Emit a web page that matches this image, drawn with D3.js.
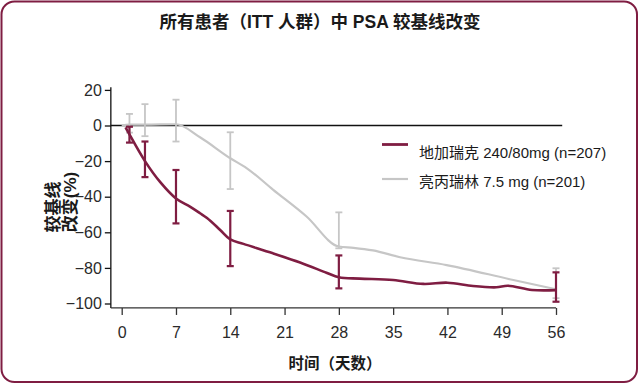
<!DOCTYPE html>
<html lang="zh">
<head>
<meta charset="utf-8">
<script src="https://d3js.org/d3.v7.min.js"></script>
<style>
  body { margin: 0; background: #fff; }
  svg text { font-family: "Liberation Sans", Arial, "Noto Sans CJK SC", sans-serif; }
</style>
</head>
<body>
<div id="chart"></div>
<script>
  // values
  const xTicks = [0, 7, 14, 21, 28, 35, 42, 49, 56];
  const yTicks = [20, 0, -20, -40, -60, -80, -100];

  // degarelix curve (day, % change)
  const degaDays = [0.5, 1, 3, 5, 7, 8.8, 10.1, 11, 12.7, 14, 15.7, 19.5, 23, 26.4, 28, 30.7, 35, 38.9, 42, 45.3, 48.3, 49.8, 52.9, 56];
  const degaVals = [-1, -5, -20, -32, -41, -45.6, -49.3, -52, -58.7, -64, -66.5, -71.8, -77, -82.7, -85.3, -86, -86.8, -89, -88.3, -90.2, -90.9, -90, -92.4, -92.5];
  // leuprolide curve
  const leuDays = [0, 1, 3, 7, 10.1, 14, 16.1, 19.5, 23.8, 28, 29.9, 32.4, 35.9, 41.9, 50.5, 56];
  const leuVals = [0, 0.5, 0.5, 0.7, -6.6, -18.4, -23.9, -36, -51, -68, -68.7, -70.2, -74, -78.4, -86.8, -92];

  // error bars
  const barDays = [1, 3, 7, 14, 28, 56];
  const degaHi = [-0.7, -9, -25, -48, -73, -82.5];
  const degaLo = [-9.6, -29, -55, -79, -91.5, -99];
  const leuHi = [6.5, 12, 14.5, -3.8, -48.8, -80.2];
  const leuLo = [-4, -6, -9, -35.7, -69, -97];

  const seriesNames = ["地加瑞克 240/80mg (n=207)", "亮丙瑞林 7.5 mg (n=201)"];
  const maroon = "#7f1d42";
  const grey = "#c6c6c6";

  const W = 640, H = 384;
  const svg = d3.select("#chart").append("svg")
    .attr("width", W).attr("height", H);

  // card
  svg.append("rect")
    .attr("x", 1.5).attr("y", 1.5)
    .attr("width", 635.5).attr("height", 380.5)
    .attr("rx", 13)
    .attr("fill", "#fff")
    .attr("stroke", maroon)
    .attr("stroke-width", 2);

  svg.append("text")
    .attr("x", 320).attr("y", 28)
    .attr("text-anchor", "middle")
    .attr("font-size", 17.5).attr("font-weight", "bold")
    .attr("fill", "#1a1a1a")
    .text("所有患者（ITT 人群）中 PSA 较基线改变");

  const x = d3.scaleLinear().domain([0, 56]).range([121.7, 556]);
  const y = d3.scaleLinear().domain([-100, 20]).range([303.5, 89.9]);

  const axisX = x(-1.4);        // y axis position
  const axisY = y(-102.5);      // x axis position

  // y axis
  const gy = svg.append("g")
    .attr("transform", `translate(${axisX},0)`)
    .call(d3.axisLeft(y).tickValues(yTicks).tickSize(6).tickSizeOuter(0).tickPadding(3));
  gy.select(".domain").remove();
  gy.append("line")
    .attr("y1", y(21.5)).attr("y2", axisY)
    .attr("stroke", "#111").attr("stroke-width", 1.3);
  gy.selectAll(".tick line").attr("stroke", "#111").attr("stroke-width", 1.3);
  gy.selectAll(".tick text")
    .attr("font-size", 16).attr("fill", "#2a2a2a")
    .attr("font-family", "Liberation Sans, Arial, sans-serif");

  // x axis
  const gx = svg.append("g")
    .attr("transform", `translate(0,${axisY})`)
    .call(d3.axisBottom(x).tickValues(xTicks).tickSize(7).tickSizeOuter(0).tickPadding(12));
  gx.select(".domain").remove();
  gx.append("line")
    .attr("x1", axisX).attr("x2", x(56))
    .attr("stroke", "#333").attr("stroke-width", 1.3);
  gx.selectAll(".tick line").attr("stroke", "#333").attr("stroke-width", 1.3);
  gx.selectAll(".tick text")
    .attr("font-size", 16).attr("fill", "#2a2a2a")
    .attr("font-family", "Liberation Sans, Arial, sans-serif");

  svg.append("text")
    .attr("x", 335).attr("y", 369)
    .attr("text-anchor", "middle")
    .attr("font-size", 15.5).attr("font-weight", "bold")
    .attr("fill", "#1a1a1a")
    .text("时间（天数）");

  // y title, two lines
  const yTitle = ["较基线", "改变(%)"];
  const yTitleMid = [207, 202];
  svg.selectAll(".ytitle")
    .data(yTitle)
    .enter().append("text")
    .attr("class", "ytitle")
    .attr("transform", (d, i) => `translate(${53 + i * 17.5},${yTitleMid[i]}) rotate(-90)`)
    .attr("text-anchor", "middle")
    .attr("dominant-baseline", "central")
    .attr("font-size", 17).attr("font-weight", "bold")
    .attr("fill", "#1a1a1a")
    .text(d => d);

  // zero line
  svg.append("line")
    .attr("x1", axisX).attr("x2", x(56.8))
    .attr("y1", y(0)).attr("y2", y(0))
    .attr("stroke", "#111").attr("stroke-width", 1.3);

  const line = d3.line()
    .x(d => x(d[0]))
    .y(d => y(d[1]))
    .curve(d3.curveMonotoneX);

  function drawBars(hi, lo, color, width, cap) {
    const g = svg.append("g");
    barDays.forEach((d, i) => {
      const cx = x(d);
      g.append("line").attr("x1", cx).attr("x2", cx)
        .attr("y1", y(hi[i])).attr("y2", y(lo[i]))
        .attr("stroke", color).attr("stroke-width", width);
      [hi[i], lo[i]].forEach(v => {
        g.append("line").attr("x1", cx - cap).attr("x2", cx + cap)
          .attr("y1", y(v)).attr("y2", y(v))
          .attr("stroke", color).attr("stroke-width", width);
      });
    });
  }

  // leuprolide
  svg.append("path")
    .datum(d3.zip(leuDays, leuVals))
    .attr("fill", "none")
    .attr("stroke", grey)
    .attr("stroke-width", 2.2)
    .attr("d", line);
  drawBars(leuHi, leuLo, grey, 1.8, 3.5);

  // degarelix
  svg.append("path")
    .datum(d3.zip(degaDays, degaVals))
    .attr("fill", "none")
    .attr("stroke", maroon)
    .attr("stroke-width", 2.6)
    .attr("d", line.curve(d3.curveCatmullRom.alpha(0.5)));
  drawBars(degaHi, degaLo, maroon, 2.2, 3.5);

  // legend
  const legend = svg.append("g");
  const lineY = [144.5, 179];
  const textY = [152.5, 181.5];
  const legColors = [maroon, grey];
  const legWidths = [2.8, 2.2];
  seriesNames.forEach((name, i) => {
    legend.append("line")
      .attr("x1", 382).attr("x2", 408)
      .attr("y1", lineY[i]).attr("y2", lineY[i])
      .attr("stroke", legColors[i]).attr("stroke-width", legWidths[i]);
    legend.append("text")
      .attr("x", 419).attr("y", textY[i])
      .attr("dominant-baseline", "central")
      .attr("font-size", 15).attr("fill", "#1a1a1a")
      .text(name);
  });
</script>
</body>
</html>
